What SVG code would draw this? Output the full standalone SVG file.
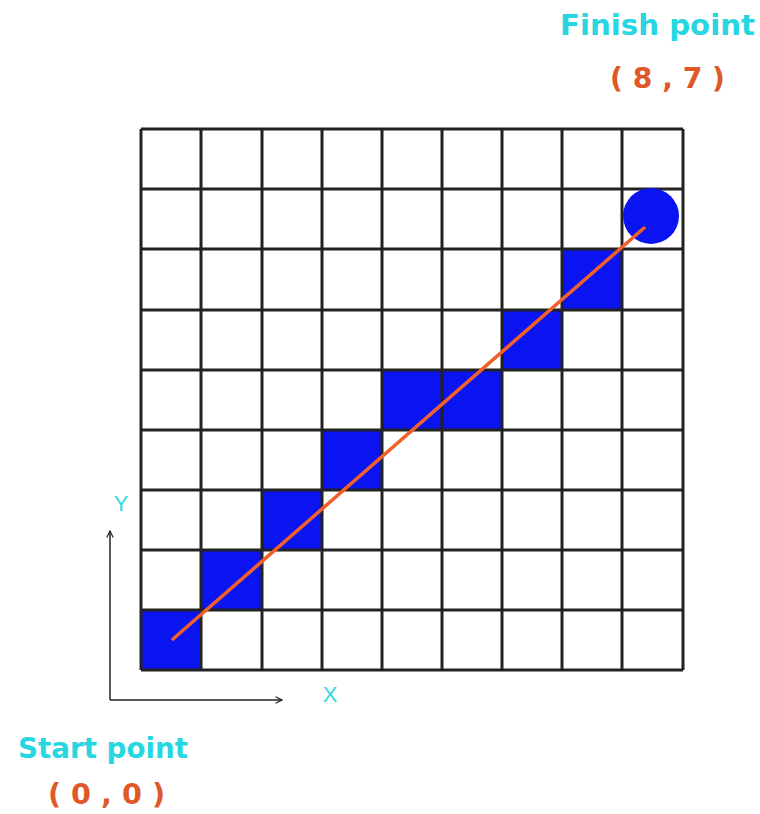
<svg xmlns="http://www.w3.org/2000/svg" width="760" height="814" viewBox="0 0 760 814">
<defs>
<style>
.grid{stroke:#222;stroke-width:3;fill:none}
.cell{fill:#0a14f0}
.lbl{font-family:"DejaVu Sans",Verdana,sans-serif;font-weight:bold;fill:#26d6e0}
.coord{font-family:"DejaVu Sans",Verdana,sans-serif;font-weight:bold;fill:#e0582a}
.axis{stroke:#222;stroke-width:1.5;fill:none}
.axlbl{font-family:"Liberation Sans",Arial,sans-serif;fill:#30d8e0}
</style>
<marker id="ah" viewBox="0 0 10 10" refX="9" refY="5" markerWidth="8" markerHeight="8" markerUnits="userSpaceOnUse" orient="auto">
<path d="M1,1 L9,5 L1,9" fill="none" stroke="#222" stroke-width="1.5"/>
</marker>
</defs>
<rect width="760" height="814" fill="#fff"/>
<g id="cells">
<rect class="cell" x="141" y="610" width="60" height="60"/>
<rect class="cell" x="201" y="550" width="61" height="60"/>
<rect class="cell" x="262" y="490" width="60" height="60"/>
<rect class="cell" x="322" y="430" width="60" height="60"/>
<rect class="cell" x="382" y="370" width="60" height="60"/>
<rect class="cell" x="442" y="370" width="60" height="60"/>
<rect class="cell" x="502" y="310" width="60" height="60"/>
<rect class="cell" x="562" y="249" width="60" height="61"/>
</g>
<g id="grid" class="grid">
<path d="M141,129V670M201,129V670M262,129V670M322,129V670M382,129V670M442,129V670M502,129V670M562,129V670M622,129V670M683,129V670"/>
<path d="M141,129H683M141,189H683M141,249H683M141,310H683M141,370H683M141,430H683M141,490H683M141,550H683M141,610H683M141,670H683"/>
</g>
<g id="finish-dot">
<circle cx="651" cy="216" r="28" fill="#0a14f0"/>
</g>
<g id="connectors">
<line x1="173" y1="639" x2="644" y2="228" stroke="#f0602a" stroke-width="3.5" stroke-linecap="round"/>
<line class="axis" x1="110" y1="700" x2="110" y2="531" marker-end="url(#ah)"/>
<line class="axis" x1="110" y1="700" x2="282" y2="700" marker-end="url(#ah)"/>
</g>
<g id="axis-labels">
<text class="axlbl" x="121" y="511" font-size="22" text-anchor="middle">Y</text>
<text class="axlbl" x="330" y="702" font-size="22" text-anchor="middle">X</text>
</g>
<g id="finish-label">
<text class="lbl" x="560" y="35" font-size="29" textLength="195" lengthAdjust="spacingAndGlyphs">Finish point</text>
<text class="coord" x="610" y="88" font-size="29" textLength="115" lengthAdjust="spacingAndGlyphs" xml:space="preserve">( 8 , 7 )</text>
</g>
<g id="start-label">
<text class="lbl" x="18" y="758" font-size="29" textLength="170" lengthAdjust="spacingAndGlyphs">Start point</text>
<text class="coord" x="48" y="804" font-size="28" textLength="117" lengthAdjust="spacingAndGlyphs" xml:space="preserve">( 0 , 0 )</text>
</g>
</svg>
